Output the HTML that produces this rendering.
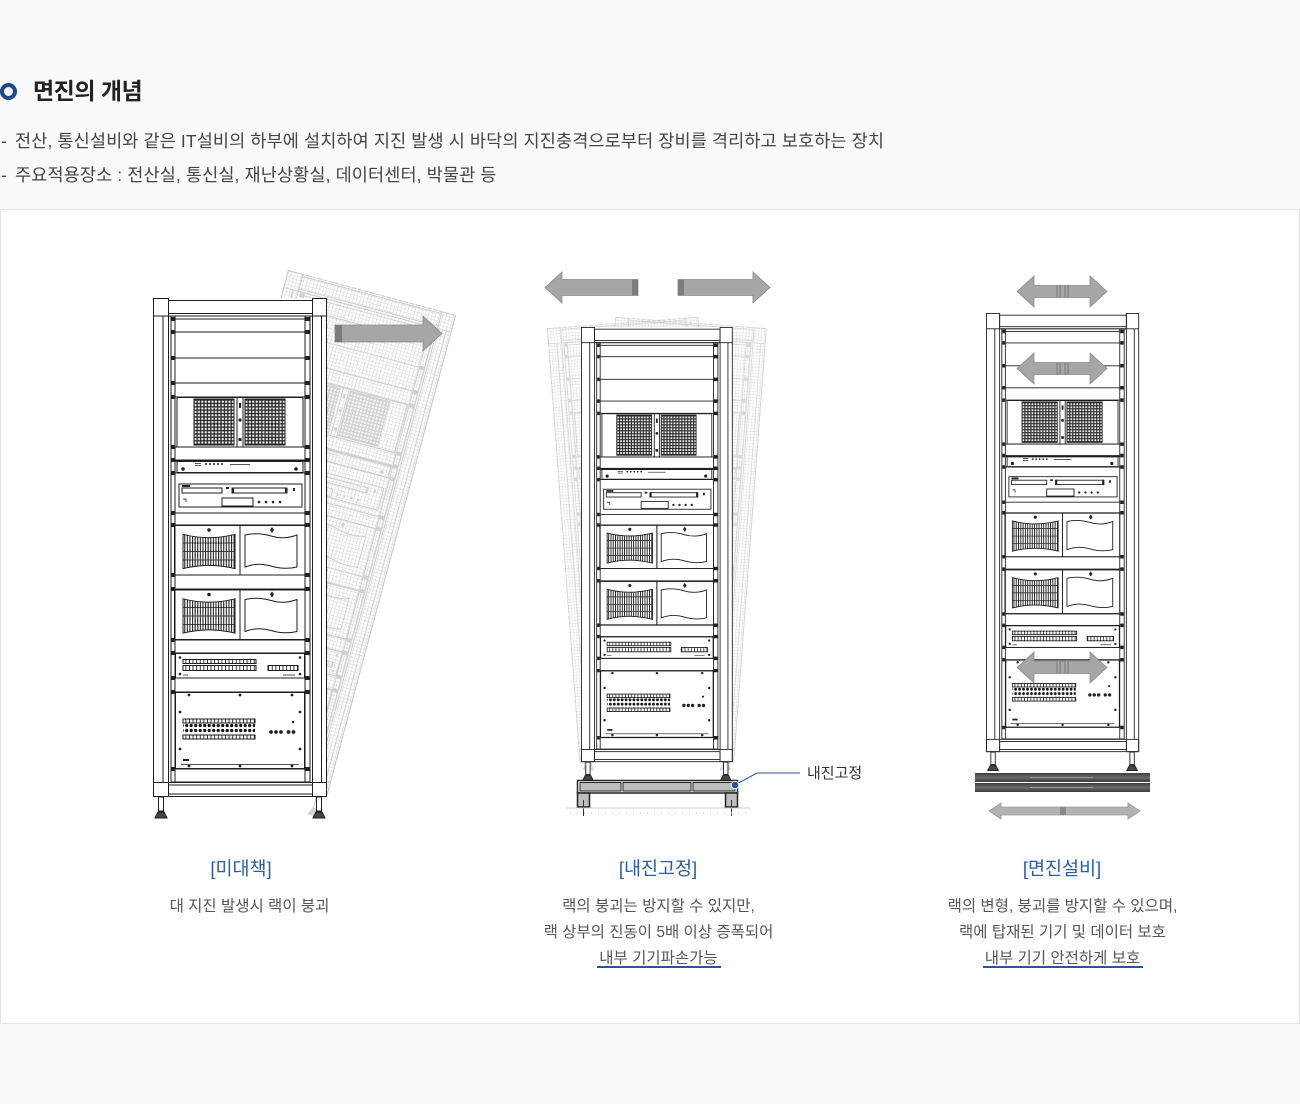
<!DOCTYPE html>
<html><head><meta charset="utf-8">
<style>
*{margin:0;padding:0;box-sizing:border-box}
html,body{width:1300px;height:1104px;background:#f8f9fb;overflow:hidden}
body{position:relative;font-family:"Liberation Sans","Noto Sans CJK KR",sans-serif}
.box{position:absolute;left:0;top:209px;width:1300px;height:815px;background:#fff;border:1px solid #e3e3e3}
.t{position:absolute;white-space:nowrap}
.icon{position:absolute;left:0;top:83px;width:17px;height:17px;border:4px solid #1d4a8c;border-radius:50%;background:#fff}
.title{left:33px;top:76px;font-size:23px;line-height:30px;font-weight:700;color:#222;letter-spacing:-0.5px}
.p{font-size:17.5px;line-height:24px;color:#444;letter-spacing:0.12px}
.ct{width:400px;text-align:center;font-size:18.5px;line-height:24px;color:#2b5ca8;letter-spacing:0}
.cd{width:400px;text-align:center;font-size:15.5px;line-height:26px;color:#555;letter-spacing:0}
.ul{position:absolute;height:1.5px;background:#2d549a}
svg{position:absolute;left:0;top:0}
</style></head><body>
<div class="box"></div>
<svg width="1300" height="1104" viewBox="0 0 1300 1104" xmlns="http://www.w3.org/2000/svg">
<defs>
 <pattern id="mesh" width="3.4" height="3.4" patternUnits="userSpaceOnUse">
  <rect width="3.4" height="3.4" fill="#2a2a2a"/><rect x="0.7" y="0.7" width="2" height="2" fill="#fff"/>
 </pattern>
 <pattern id="vbars" width="2.6" height="10" patternUnits="userSpaceOnUse">
  <rect width="2.6" height="10" fill="#fff"/><rect width="1.1" height="10" fill="#222"/>
 </pattern>
 <pattern id="cells" width="3.6" height="10" patternUnits="userSpaceOnUse">
  <rect width="3.6" height="10" fill="#fff"/><rect width="0.9" height="10" fill="#222"/>
 </pattern>
 <pattern id="dots" width="4.5" height="5" patternUnits="userSpaceOnUse">
  <circle cx="2.2" cy="2.5" r="1.6" fill="#111"/>
 </pattern>
 <pattern id="grid" width="3.5" height="3.5" patternUnits="userSpaceOnUse">
  <path d="M0 0.25H3.5M0.25 0V3.5" stroke="#d6d6d6" stroke-width="0.6" fill="none"/>
 </pattern>
 <g id="cab" stroke="#1e1e1e" stroke-width="1" fill="none">
  <rect x="21.5" y="0.5" width="65.5" height="49.5"/>
  <rect x="87" y="0.5" width="65" height="49.5"/>
  <path d="M30 9.3Q56 16 82 9.3V43.7Q56 37 30 43.7Z" fill="url(#vbars)"/>
  <path d="M30 18H82M30 26.5H82M30 35H82" stroke-width=".8"/>
  <path d="M92 10Q105 7 118 11T144 10V42Q131 45 118 41T92 42Z" fill="#fff"/>
  <circle cx="56" cy="5" r="1.8" fill="#222" stroke="none"/>
  <path d="M119 2l2 3-2 3-2-3z" fill="#222" stroke="none"/>
 </g>
 <g id="rack" stroke="#1e1e1e" stroke-width="1" fill="none">
  <rect x="0" y="0" width="174" height="499" fill="#fff" stroke="none"/>
  <rect x="0.5" y="0.5" width="15" height="498"/>
  <line x1="10" y1="18" x2="10" y2="484"/>
  <rect x="159.5" y="0.5" width="14" height="498"/>
  <line x1="168.5" y1="18" x2="168.5" y2="484"/>
  <rect x="15.5" y="2.5" width="144" height="15.5"/>
  <line x1="15.5" y1="15.5" x2="159.5" y2="15.5"/>
  <line x1="0.5" y1="18" x2="173.5" y2="18"/>
  <rect x="18" y="18" width="4" height="466"/>
  <rect x="152" y="18" width="5" height="466"/>
  <path d="M22 21H152M22 34H152M22 60H152M22 85H152M22 99H152M22 149H152M22 162H152M22 175H152M22 215H152M22 227H152M22 277H152M22 291H152M22 342H152M22 355H152M22 380H152M22 394H152M22 471H152M22 484H152"/>
  <path fill="#222" stroke="none" d="M18.5 19h3v4h-3zM152.5 19h4v4h-4zM18.5 32h3v4h-3zM152.5 32h4v4h-4zM18.5 58h3v4h-3zM152.5 58h4v4h-4zM18.5 83h3v4h-3zM152.5 83h4v4h-4zM18.5 97h3v4h-3zM152.5 97h4v4h-4zM18.5 147h3v4h-3zM152.5 147h4v4h-4zM18.5 160h3v4h-3zM152.5 160h4v4h-4zM18.5 173h3v4h-3zM152.5 173h4v4h-4zM18.5 213h3v4h-3zM152.5 213h4v4h-4zM18.5 225h3v4h-3zM152.5 225h4v4h-4zM18.5 275h3v4h-3zM152.5 275h4v4h-4zM18.5 289h3v4h-3zM152.5 289h4v4h-4zM18.5 340h3v4h-3zM152.5 340h4v4h-4zM18.5 353h3v4h-3zM152.5 353h4v4h-4zM18.5 378h3v4h-3zM152.5 378h4v4h-4zM18.5 392h3v4h-3zM152.5 392h4v4h-4zM18.5 469h3v4h-3zM152.5 469h4v4h-4z"/>
  <rect x="24" y="99.5" width="126" height="49.5"/>
  <rect x="41" y="101" width="40" height="46" fill="url(#mesh)"/>
  <rect x="92" y="101" width="40" height="46" fill="url(#mesh)"/>
  <line x1="84" y1="99.5" x2="84" y2="149"/><line x1="90" y1="99.5" x2="90" y2="149"/>
  <rect x="86" y="105" width="2" height="5" fill="#222" stroke="none"/>
  <circle cx="87" cy="122" r="1.6" fill="#222" stroke="none"/>
  <rect x="85.5" y="140" width="3" height="3" fill="#222" stroke="none"/>
  <rect x="22" y="162" width="130" height="1.8" fill="#222" stroke="none"/>
  <rect x="24" y="163.5" width="126" height="11"/>
  <path d="M42 165.5h6M42 167.5h6M77 166.5h20" stroke-width=".8"/>
  <g fill="#222" stroke="none"><circle cx="53" cy="166" r="1"/><circle cx="57" cy="166" r="1"/><circle cx="61" cy="166" r="1"/><circle cx="65" cy="166" r="1"/><circle cx="69" cy="166" r="1"/><circle cx="30" cy="171" r="1.8"/><circle cx="143" cy="171" r="1.8"/></g>
  <rect x="26" y="186" width="123" height="23"/>
  <rect x="29" y="190" width="40" height="5"/>
  <rect x="79" y="190" width="55" height="5"/>
  <g fill="#222" stroke="none"><rect x="79" y="189.5" width="2" height="6"/><rect x="132" y="189.5" width="2" height="6"/><rect x="29" y="187" width="8" height="2"/><circle cx="106" cy="204" r="1.3"/><circle cx="113" cy="204" r="1.3"/><circle cx="120" cy="204" r="1.3"/><circle cx="127" cy="204" r="1.3"/><rect x="73" y="189" width="3" height="2"/><rect x="140" y="190" width="2" height="3"/></g>
  <rect x="69" y="200" width="31" height="8"/>
  <path d="M30 201h3v3" stroke-width=".8"/>
  <use href="#cab" transform="translate(0,227)"/>
  <use href="#cab" transform="translate(0,291.5)"/>
  <rect x="22.5" y="355.5" width="129" height="24.5"/>
  <g fill="#222" stroke="none"><circle cx="27" cy="359.5" r="1.3"/><circle cx="27" cy="376" r="1.3"/><circle cx="147" cy="359.5" r="1.3"/><circle cx="147" cy="376" r="1.3"/></g>
  <rect x="30" y="361.5" width="73" height="4" fill="url(#cells)"/>
  <rect x="30" y="367.5" width="73" height="5" fill="url(#cells)"/>
  <rect x="115" y="367.5" width="30" height="5" fill="url(#cells)"/>
  <path d="M30 377h5M130 377h12" stroke-width=".7"/>
  <rect x="22.5" y="394.5" width="129" height="76"/>
  <g fill="#222" stroke="none"><circle cx="36" cy="397" r="1.4"/><circle cx="87" cy="397" r="1.4"/><circle cx="139" cy="397" r="1.4"/><circle cx="27" cy="414" r="1.4"/><circle cx="147" cy="414" r="1.4"/><circle cx="27" cy="451" r="1.4"/><circle cx="147" cy="451" r="1.4"/><circle cx="36" cy="468" r="1.4"/><circle cx="87" cy="468" r="1.4"/><circle cx="139" cy="468" r="1.4"/><circle cx="140" cy="424" r="1.2"/><circle cx="118" cy="434" r="1.9"/><circle cx="123" cy="434" r="1.9"/><circle cx="128" cy="434" r="1.9"/><circle cx="135.5" cy="434" r="1.9"/><circle cx="140.5" cy="434" r="1.9"/><rect x="30" y="461" width="6" height="2"/></g>
  <rect x="30" y="421" width="72" height="4" fill="url(#cells)"/>
  <rect x="30" y="426" width="72" height="10" fill="url(#dots)" stroke="none"/>
  <rect x="30" y="437" width="72" height="4" fill="url(#cells)"/>
  <path d="M28 466.5H146" stroke-width=".7"/>
  <rect x="0.5" y="484.5" width="173" height="14"/>
  <rect x="15.5" y="487" width="144" height="9"/>
  <rect x="5.5" y="499" width="5" height="14" fill="#fff"/>
  <path d="M2 520L5 514H11L14 520Z" fill="#444"/>
  <rect x="163.5" y="499" width="5" height="14" fill="#fff"/>
  <path d="M160 520L163 514H169L172 520Z" fill="#444"/>
 </g>
 <g id="ghost">
  <use href="#rack" opacity=".22"/>
  <rect width="174" height="499" fill="url(#grid)"/>
  <rect x="0.5" y="0.5" width="173" height="498" fill="none" stroke="#c8c8c8" stroke-dasharray="4 2"/>
 </g>
 <linearGradient id="bar" x1="0" y1="0" x2="0" y2="1"><stop offset="0" stop-color="#3c3c3c"/><stop offset=".5" stop-color="#6a6a6a"/><stop offset="1" stop-color="#3c3c3c"/></linearGradient>
</defs>

<g transform="translate(153,298)"><g transform="rotate(15 174 499)"><use href="#ghost"/></g></g>
<polygon points="335,325 423,325 423,316 442,333.5 423,351 423,342 335,342" fill="#a6a6a6" stroke="#8a8a8a" stroke-width=".8"/>
<rect x="335" y="325" width="7" height="17" fill="#7d7d7d"/>
<use href="#rack" transform="translate(153,298)"/>

<g transform="translate(581,327) scale(0.872)"><g transform="rotate(-4.3 0 520)" opacity=".8"><use href="#ghost"/></g></g>
<g transform="translate(581,327) scale(0.872)"><g transform="rotate(4.3 174 520)" opacity=".8"><use href="#ghost"/></g></g>
<use href="#rack" transform="translate(581,327) scale(0.872)"/>
<g stroke="#222" stroke-width="1.5">
 <rect x="577.5" y="780.5" width="160" height="12.5" fill="#fff"/>
 <rect x="580" y="782.5" width="41" height="8.5" fill="#bdbdbd" stroke-width="1"/>
 <rect x="623" y="782.5" width="68" height="8.5" fill="#bdbdbd" stroke-width="1"/>
 <rect x="693" y="782.5" width="42" height="8.5" fill="#bdbdbd" stroke-width="1"/>
 <rect x="577.5" y="793" width="12" height="14" fill="#bdbdbd"/>
 <rect x="725.5" y="793" width="12" height="14" fill="#bdbdbd"/>
</g>
<path d="M583.5 800V816M731.5 800V816" stroke="#333" stroke-width="1"/>
<path d="M566 808H750" stroke="#cfcfcf" stroke-width="1"/>
<path d="M570 813H748" stroke="#c4c4c4" stroke-width="1.2" stroke-dasharray="1 6"/>
<polyline points="735,785 757,773 800,773" fill="none" stroke="#2d549a" stroke-width="1"/>
<circle cx="735" cy="785" r="3.8" fill="#2856a5" stroke="#fff" stroke-width="1"/>
<polygon points="638,279.5 562,279.5 562,272 545,287.5 562,303 562,295.5 638,295.5" fill="#a6a6a6" stroke="#8a8a8a" stroke-width=".8"/>
<rect x="632" y="279.5" width="6" height="16" fill="#7d7d7d"/>
<polygon points="678,279.5 753,279.5 753,272 770,287.5 753,303 753,295.5 678,295.5" fill="#a6a6a6" stroke="#8a8a8a" stroke-width=".8"/>
<rect x="678" y="279.5" width="6" height="16" fill="#7d7d7d"/>

<use href="#rack" transform="translate(986,313) scale(0.88)"/>
<rect x="975" y="773" width="175" height="9" fill="url(#bar)"/>
<rect x="975" y="783" width="175" height="9" fill="url(#bar)"/>
<path d="M1030 777.5H1093M1030 787.5H1093" stroke="#999" stroke-width="1"/>
<g fill="#a6a6a6" stroke="#8a8a8a" stroke-width=".8">
 <polygon points="1017,291.5 1034,276 1034,285.5 1090,285.5 1090,276 1107,291.5 1090,307 1090,297.5 1034,297.5 1034,307"/>
 <polygon points="1017,368.5 1034,353 1034,362.5 1090,362.5 1090,353 1107,368.5 1090,384 1090,374.5 1034,374.5 1034,384"/>
 <polygon points="1017,667.5 1034,652 1034,661.5 1090,661.5 1090,652 1107,667.5 1090,683 1090,673.5 1034,673.5 1034,683"/>
</g>
<path d="M1057 285.5V297.5M1060 285.5V297.5M1065 285.5V297.5M1068 285.5V297.5M1057 362.5V374.5M1060 362.5V374.5M1065 362.5V374.5M1068 362.5V374.5M1057 661.5V673.5M1060 661.5V673.5M1065 661.5V673.5M1068 661.5V673.5" stroke="#7a7a7a" stroke-width="1"/>
<polygon points="989,811 1001,803 1001,807 1128,807 1128,803 1140,811 1128,819 1128,815 1001,815 1001,819" fill="#b2b2b2" stroke="#9a9a9a" stroke-width=".8"/>
<rect x="1060" y="807" width="6" height="8" fill="#8a8a8a"/>
</svg>

<div class="icon"></div>
<div class="t title">면진의 개념</div>
<div class="t p" style="left:1px;top:129px">-</div>
<div class="t p" style="left:15px;top:129px">전산, 통신설비와 같은 IT설비의 하부에 설치하여 지진 발생 시 바닥의 지진충격으로부터 장비를 격리하고 보호하는 장치</div>
<div class="t p" style="left:1px;top:163px">-</div>
<div class="t p" style="left:15px;top:163px">주요적용장소 : 전산실, 통신실, 재난상황실, 데이터센터, 박물관 등</div>

<div class="t" style="left:807px;top:764px;font-size:15px;line-height:20px;color:#333">내진고정</div>

<div class="t ct" style="left:41px;top:857px">[미대책]</div>
<div class="t cd" style="left:49.5px;top:893.5px">대 지진 발생시 랙이 붕괴</div>

<div class="t ct" style="left:458px;top:857px">[내진고정]</div>
<div class="t cd" style="left:458.5px;top:893.5px">랙의 붕괴는 방지할 수 있지만,</div>
<div class="t cd" style="left:458.5px;top:919.5px">랙 상부의 진동이 5배 이상 증폭되어</div>
<div class="t cd" style="left:458.5px;top:945.5px">내부 기기파손가능</div>
<div class="ul" style="left:597px;top:966px;width:124px"></div>

<div class="t ct" style="left:862px;top:857px">[면진설비]</div>
<div class="t cd" style="left:862.5px;top:893.5px">랙의 변형, 붕괴를 방지할 수 있으며,</div>
<div class="t cd" style="left:862.5px;top:919.5px">랙에 탑재된 기기 및 데이터 보호</div>
<div class="t cd" style="left:862.5px;top:945.5px">내부 기기 안전하게 보호</div>
<div class="ul" style="left:983px;top:966px;width:160px"></div>
</body></html>
